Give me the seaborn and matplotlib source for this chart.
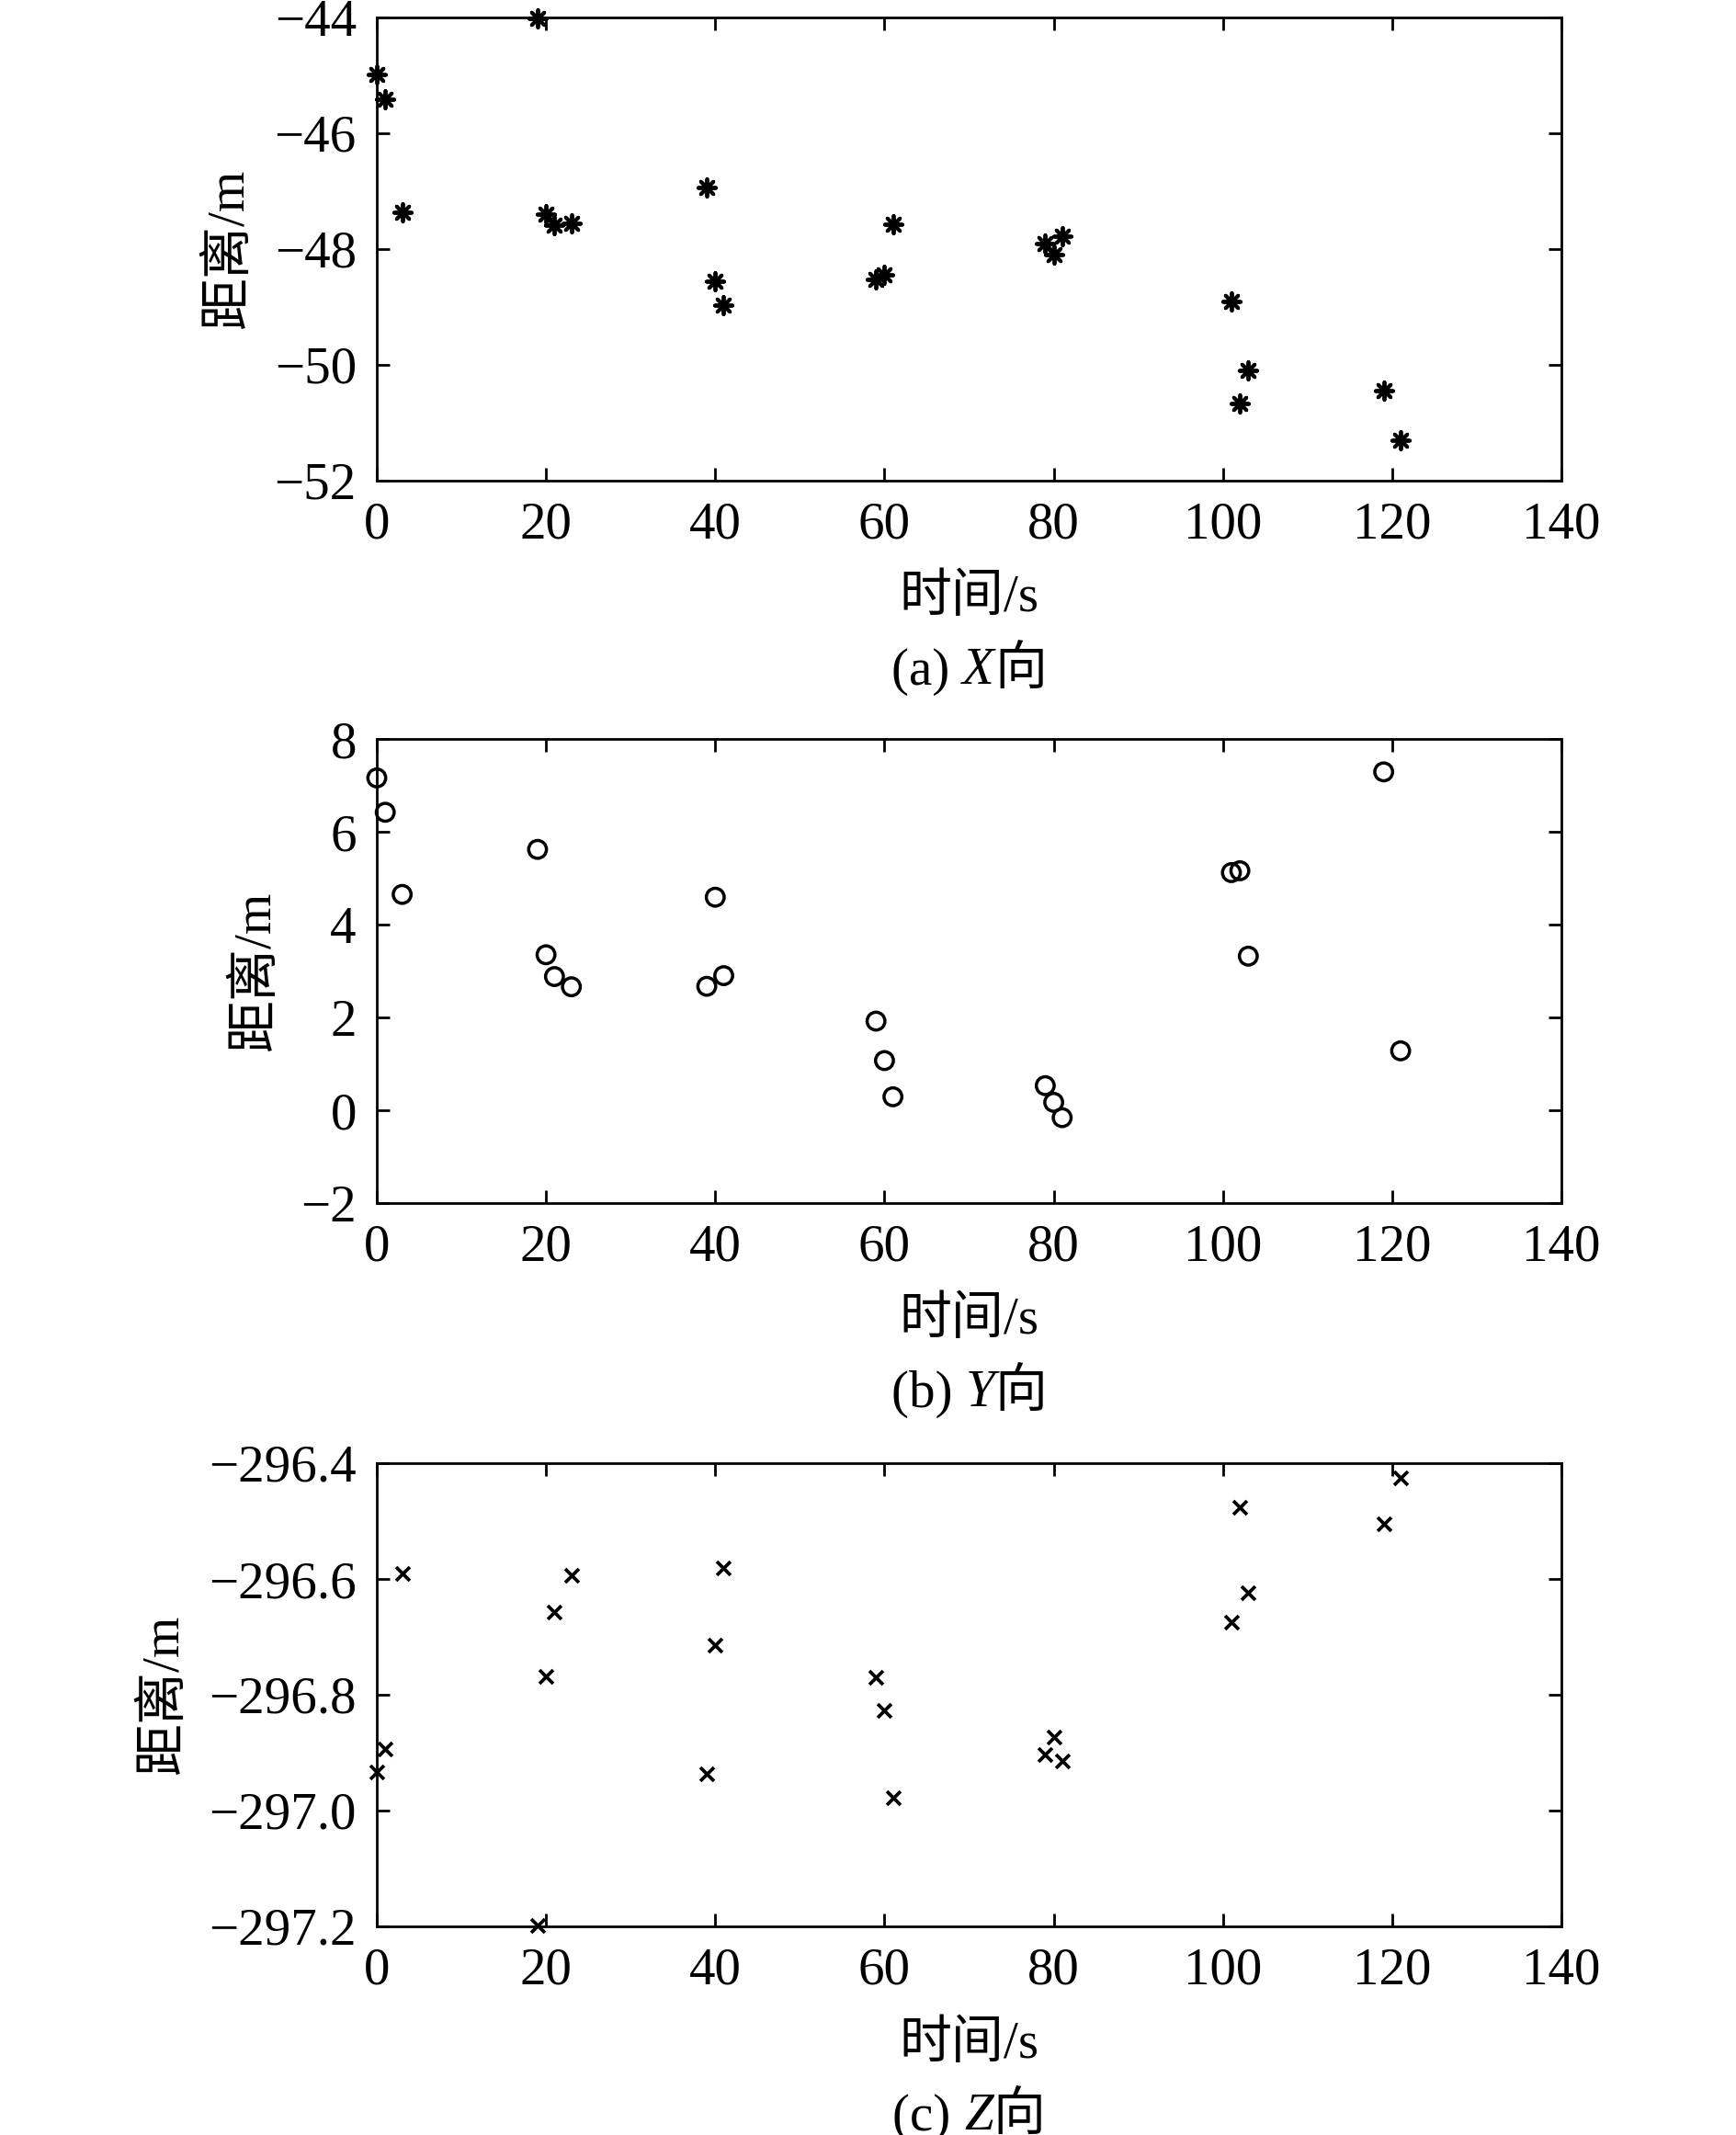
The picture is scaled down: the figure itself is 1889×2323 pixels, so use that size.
import matplotlib
matplotlib.use("Agg")
import matplotlib.pyplot as plt
from matplotlib.offsetbox import TextArea, HPacker, AnnotationBbox
import seaborn as sns
import pandas as pd

# ---------------- data ----------------
time_s = [0, 1, 3, 19, 20, 21, 23, 39, 40, 41, 59, 60, 61, 79, 80, 81, 101, 102, 103, 119, 121]

x_dist = [-44.98, -45.41, -47.36, -44.02, -47.39, -47.58, -47.55, -46.93, -48.55, -48.97,
          -48.52, -48.44, -47.57, -47.91, -48.09, -47.77, -48.90, -50.66, -50.09, -50.45, -51.30]

y_dist = [7.16, 6.42, 4.65, 5.62, 3.35, 2.88, 2.66, 2.67, 4.59, 2.90,
          1.92, 1.07, 0.29, 0.53, 0.17, -0.16, 5.12, 5.16, 3.32, 7.29, 1.28]

z_dist = [-296.933, -296.893, -296.591, -297.198, -296.769, -296.657, -296.594, -296.936, -296.714, -296.581,
          -296.770, -296.827, -296.977, -296.903, -296.873, -296.914, -296.674, -296.476, -296.624, -296.505, -296.426]

x_ticks = [0, 20, 40, 60, 80, 100, 120, 140]
ya_ticks = [-52, -50, -48, -46, -44]
yb_ticks = [-2, 0, 2, 4, 6, 8]
yc_ticks = [-297.2, -297.0, -296.8, -296.6, -296.4]

xlabel_text = "时间/s"
ylabel_text = "距离/m"
caption_letters = ["(a) ", "(b) ", "(c) "]
caption_axes = ["X", "Y", "Z"]
caption_suffix = "向"

# ---------------- style ----------------
sns.set_theme(style="white")
FAM = ["Liberation Serif", "Noto Sans CJK SC"]
plt.rcParams["font.family"] = FAM
plt.rcParams["axes.unicode_minus"] = True
FS = 41
LFS = 41

fig = plt.figure(figsize=(18.9, 23.23), dpi=100)

W, H = 1890.0, 2323.0
left_px, right_px = 410, 1699
panels_px = [(19, 523), (804, 1309), (1592, 2096)]

def fmt(v, dec):
    s = f"{abs(v):.{dec}f}"
    return ("\u2212" + s) if v < 0 else s

data = [x_dist, y_dist, z_dist]
yticks_all = [ya_ticks, yb_ticks, yc_ticks]
ydec = [0, 0, 1]

for i, (top, bot) in enumerate(panels_px):
    ax = fig.add_axes([left_px / W, 1 - bot / H, (right_px - left_px) / W, (bot - top) / H])
    df = pd.DataFrame({"t": time_s, "d": data[i]})
    if i == 0:
        sns.scatterplot(data=df, x="t", y="d", ax=ax, marker=(8, 2, 0), color="black",
                        s=190, linewidth=2.8, clip_on=False, zorder=5)
    elif i == 1:
        sns.scatterplot(data=df, x="t", y="d", ax=ax, marker="o", facecolors="none",
                        edgecolor="black", s=195, linewidth=2.5, clip_on=False, zorder=5)
    else:
        sns.scatterplot(data=df, x="t", y="d", ax=ax, marker="x", color="black",
                        s=115, linewidth=2.7, clip_on=False, zorder=5)

    yt = yticks_all[i]
    ax.set_xlim(0, 140)
    ax.set_ylim(yt[0], yt[-1])
    ax.set_xticks(x_ticks)
    ax.set_xticklabels([fmt(v, 0) for v in x_ticks])
    ax.set_yticks(yt)
    ax.set_yticklabels([fmt(v, ydec[i]) for v in yt])

    for sp in ax.spines.values():
        sp.set_visible(True)
        sp.set_color("black")
        sp.set_linewidth(2.0)
    ax.tick_params(axis="both", which="major", direction="in", length=10, width=2.0,
                   colors="black", labelsize=FS, top=True, right=True,
                   bottom=True, left=True)
    ax.tick_params(axis="x", pad=16)
    ax.tick_params(axis="y", pad=16)
    for lab in ax.get_xticklabels() + ax.get_yticklabels():
        lab.set_family(FAM)

    ax.set_xlabel(xlabel_text, fontsize=LFS, family=FAM, labelpad=20, color="black")
    ax.set_ylabel(ylabel_text, fontsize=LFS, family=FAM, labelpad=16, color="black")
    ax.grid(False)

    parts = [
        TextArea(caption_letters[i], textprops=dict(fontsize=LFS, family=FAM, color="black")),
        TextArea(caption_axes[i], textprops=dict(fontsize=LFS, family=FAM, style="italic", color="black")),
        TextArea(caption_suffix, textprops=dict(fontsize=LFS, family=FAM, color="black")),
    ]
    box = HPacker(children=parts, align="baseline", pad=0, sep=0)
    ab = AnnotationBbox(box, (0.5, 0), xycoords="axes fraction",
                        xybox=(0, -149), boxcoords="offset points",
                        box_alignment=(0.5, 0.5), frameon=False, annotation_clip=False)
    ax.add_artist(ab)

fig.savefig("out.png", dpi=100, facecolor="white")
